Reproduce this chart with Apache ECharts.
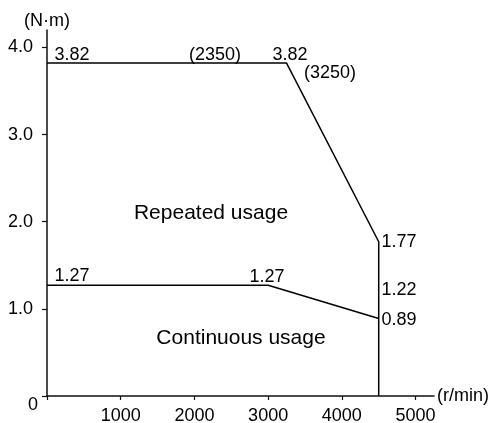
<!DOCTYPE html>
<html><head><meta charset="utf-8">
<script src="https://cdn.jsdelivr.net/npm/echarts@6/dist/echarts.min.js"></script>
<style>html,body{margin:0;padding:0;background:#fff}#c{width:492px;height:423px}</style>
</head><body><div id="c"></div>
<script>
// Data
const repeatedUsage = [[0, 3.82], [3250, 3.82], [4500, 1.77], [4500, 0]];
const continuousUsage = [[0, 1.27], [3000, 1.27], [4500, 0.89]];
const xTickValues = [1000, 2000, 3000, 4000, 5000];
const xTickLabels = ['1000', '2000', '3000', '4000', '5000'];
const yTickValues = [0, 1, 2, 3, 4];
const yTickLabels = ['0', '1.0', '2.0', '3.0', '4.0'];
const xName = '(r/min)';
const yName = '(N·m)';
// annotation anchors [x, y, text]
const valueNotes = [
  [340, 3.915, '3.82'],
  [2280, 3.915, '(2350)'],
  [3297, 3.915, '3.82'],
  [3840, 3.71, '(3250)'],
  [4776, 1.768, '1.77'],
  [4776, 1.217, '1.22'],
  [4776, 0.873, '0.89'],
  [340, 1.375, '1.27'],
  [2985, 1.37, '1.27']
];
const regionNotes = [
  [2225, 2.10, 'Repeated usage'],
  [2632, 0.666, 'Continuous usage']
];

const FONT = 'Liberation Sans, Arial, sans-serif';
const TXT = '#000';
const chart = echarts.init(document.getElementById('c'));
const noteSeries = (arr, size) => ({
  type: 'scatter', data: arr.map(d => ({value: [d[0], d[1]], name: d[2]})),
  symbolSize: 0, silent: true, clip: false,
  itemStyle: {opacity: 1},
  label: {show: true, position: 'inside', formatter: p => p.name, opacity: 1,
    color: TXT, fontSize: size, fontFamily: FONT, textBorderWidth: 0, textBorderColor: 'transparent'}
});
chart.setOption({
  animation: false,
  grid: {left: 47, right: 58, top: 30, bottom: 27, containLabel: false, outerBoundsMode: 'none'},
  xAxis: {
    type: 'value', min: 0, max: 5250, interval: 1000,
    name: xName, nameLocation: 'end', nameGap: 3,
    nameTextStyle: {color: TXT, fontSize: 18, fontFamily: FONT, verticalAlign: 'middle', align: 'left'},
    axisLine: {show: true, lineStyle: {color: '#111', width: 1.5}},
    axisTick: {show: true, length: 4, inside: false, lineStyle: {color: '#111', width: 1.2}},
    axisLabel: {margin: 11, color: TXT, fontSize: 18, fontFamily: FONT, showMaxLabel: false,
      formatter: v => { const i = xTickValues.indexOf(v); return i >= 0 ? xTickLabels[i] : ''; }},
    splitLine: {show: false}
  },
  yAxis: {
    type: 'value', min: 0, max: 4.2, interval: 1,
    name: yName, nameLocation: 'end', nameGap: 9,
    nameTextStyle: {color: TXT, fontSize: 18, fontFamily: FONT, align: 'center', verticalAlign: 'middle'},
    axisLine: {show: true, lineStyle: {color: '#111', width: 1.5}},
    axisTick: {show: true, length: 5, lineStyle: {color: '#111', width: 1.2}},
    axisLabel: {margin: 14, color: TXT, fontSize: 18, fontFamily: FONT, showMaxLabel: false,
      formatter: v => { const i = yTickValues.indexOf(v); if (i < 0) return ''; return v === 0 ? '{z|' + yTickLabels[i] + '}' : yTickLabels[i]; },
      rich: {z: {padding: [18, -5, 0, 0], color: TXT, fontSize: 18, fontFamily: FONT}}},
    splitLine: {show: false}
  },
  series: [
    {type: 'line', data: repeatedUsage, symbol: 'none', lineStyle: {color: '#000', width: 1.5}, silent: true},
    {type: 'line', data: continuousUsage, symbol: 'none', lineStyle: {color: '#000', width: 1.5}, silent: true},
    noteSeries(valueNotes, 18),
    noteSeries(regionNotes, 21)
  ]
});
</script></body></html>
